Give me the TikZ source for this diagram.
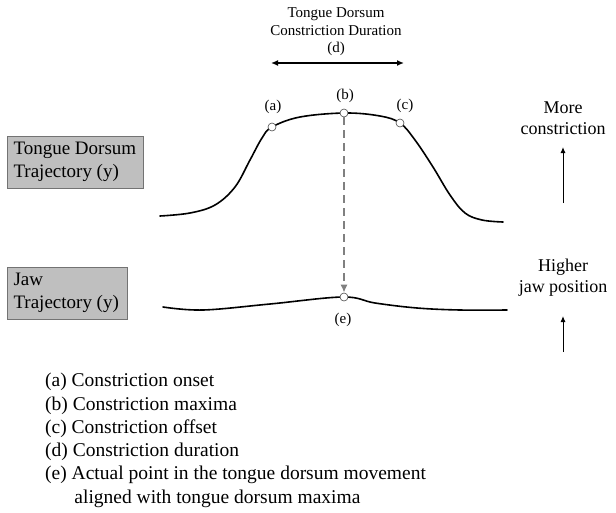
\documentclass[tikz,border=0pt]{standalone}
\usepackage{fontspec}
\setmainfont{Liberation Serif}
\usetikzlibrary{arrows.meta}
\begin{document}
\begin{tikzpicture}[x=1pt,y=-1pt,
  curve/.style={line width=1.6pt,line cap=round},
  dot/.style={circle,draw=black!70,fill=white,inner sep=0pt,minimum size=8pt,line width=0.6pt},
  graybox/.style={draw=black!55,fill=black!25,line width=0.8pt,anchor=north west,inner sep=0pt},
  lbl/.style={font=\fontsize{18}{21}\selectfont,align=center},
  small/.style={font=\fontsize{15}{17.5}\selectfont,align=center}]
\useasboundingbox (0,0) rectangle (616,512);
% boxes
\node[graybox,minimum width=136pt,minimum height=52pt] (tdbox) at (7,136) {};
\node[anchor=west,align=left,font=\fontsize{19}{23}\selectfont] (tdtxt) at (10,162) {Tongue Dorsum\\Trajectory (y)};
\node[graybox,minimum width=120pt,minimum height=52pt] (jawbox) at (7,267) {};
\node[anchor=west,align=left,font=\fontsize{19}{23}\selectfont] (jawtxt) at (10,293) {Jaw\\Trajectory (y)};
% title
\node[small] (title) at (336,32) {Tongue Dorsum\\Constriction Duration\\(d)};
\coordinate (dl) at (271,63);
\coordinate (dr) at (404,63);
\draw[line width=1.5pt,{Latex[length=7pt,width=6pt]}-{Latex[length=7pt,width=6pt]}] (dl) -- (dr);
% tongue curve
\draw[curve] plot[smooth,tension=0.6] coordinates {(160,216) (190,213) (215,205) (235,187) (250,160) (262,138) (272,127) (300,117) (345,113) (380,116) (400,123) (415,140) (433,167) (450,195) (465,213) (482,220) (503,222)};
% jaw curve
\draw[curve] plot[smooth,tension=0.6] coordinates {(163,307) (203,310) (270,304) (343,297) (375,303) (417,308) (460,310) (507,310)};
% dots
\node[dot] (a) at (272,127) {};
\node[dot] (b) at (344,113) {};
\node[dot] (c) at (400,123) {};
\node[dot] (e) at (344,297) {};
\node[small] (la) at (273,107) {(a)};
\node[small] (lb) at (345,96) {(b)};
\node[small] (lc) at (405,106) {(c)};
\node[small] (le) at (343,320) {(e)};
\draw[black!50,line width=1.5pt,dash pattern=on 8pt off 5pt,-{Latex[length=8pt,width=7pt]}] (b) -- (e);
% right labels
\node[lbl] (more) at (563,118) {More\\constriction};
\coordinate (m1) at (563,203);
\coordinate (m2) at (563,147);
\draw[line width=1pt,-{Latex[length=6pt,width=5pt]}] (m1) -- (m2);
\node[lbl] (higher) at (563,278) {Higher\\jaw position};
\coordinate (h1) at (563,352);
\coordinate (h2) at (563,316);
\draw[line width=1pt,-{Latex[length=6pt,width=5pt]}] (h1) -- (h2);
% legend
\node[anchor=north west,align=left,font=\fontsize{19.5}{23.3}\selectfont,inner sep=0pt] (legend) at (45,373) {(a) Constriction onset\\(b) Constriction maxima\\(c) Constriction offset\\(d) Constriction duration\\(e) Actual point in the tongue dorsum movement\\\hspace*{1.5em}aligned with tongue dorsum maxima};
\end{tikzpicture}
\end{document}
